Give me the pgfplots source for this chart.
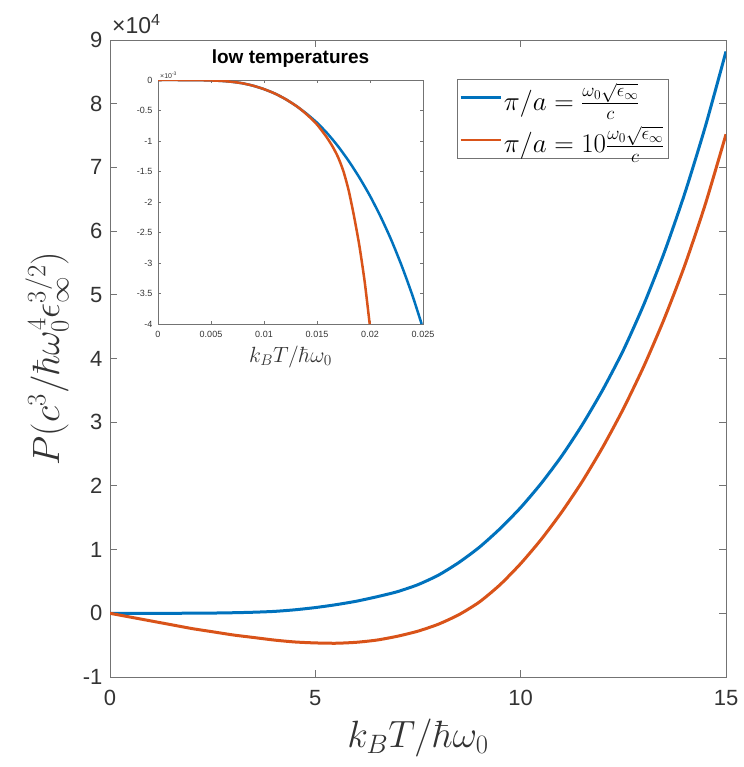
\RequirePackage{fix-cm}
\documentclass[border=0pt]{standalone}
\usepackage[no-math]{fontspec}
\setmainfont{Liberation Sans}
\usepackage{pgfplots}
\pgfplotsset{compat=1.18}
\definecolor{mblue}{rgb}{0,0.447,0.741}
\definecolor{morange}{rgb}{0.85,0.325,0.098}
\definecolor{axgray}{rgb}{0.45,0.45,0.45}
\definecolor{tickgray}{rgb}{0.2,0.2,0.2}

\begin{document}
\begin{tikzpicture}
\path (0pt,0pt) rectangle (743pt,-767pt);
% main plot, P in units of 1e4
\begin{axis}[
  at={(110pt,-677pt)}, anchor=south west,
  width=616pt, height=637pt, scale only axis,
  xmin=0, xmax=15, ymin=-1, ymax=9,
  xtick={0,5,10,15}, ytick={-1,0,...,9},
  scaled ticks=false,
  axis line style={axgray, line width=0.9pt},
  tick style={axgray, line width=0.9pt},
  major tick length=7pt,
  tick align=inside,
  /pgf/number format/assume math mode=true,
  ticklabel style={font=\fontsize{22}{26}\selectfont, text=tickgray},
  xticklabel style={yshift=-10pt},
  yticklabel style={xshift=-4pt},
  xlabel={$k_BT/\hbar\omega_0$},
  ylabel={$P(c^3/\hbar\omega_0^4\epsilon_\infty^{3/2})$},
  every axis x label/.style={at={(axis description cs:0.5,0)}, anchor=center, yshift=-61pt,
    font=\fontsize{38}{44}\selectfont, text=tickgray},
  every axis y label/.style={at={(axis description cs:0,0.5)}, rotate=90, anchor=center, yshift=63pt,
    font=\fontsize{38}{44}\selectfont, text=tickgray},
  legend style={at={(0.5633,0.9388)}, anchor=north west, draw=axgray, line width=0.8pt,
    font=\fontsize{27}{32}\selectfont, inner sep=2pt, row sep=10pt,
    cells={anchor=west}},
  legend image code/.code={\draw[#1, line width=2.4pt] (0pt,0pt) -- (40pt,0pt);},
]
\addplot[mblue, line width=3pt, smooth, tension=0.4] coordinates {
  (0,0)(0.5,0)(1,0)(1.5,0.0005)(2,0.0015)(2.5,0.004)(3,0.009)(3.5,0.017)
  (4,0.03)(4.5,0.055)(5,0.09)(5.5,0.135)(6,0.19)(6.5,0.26)(7,0.34)(7.5,0.45)
  (8,0.60)(8.5,0.80)(9,1.04)(9.5,1.33)(10,1.66)(10.5,2.04)(11,2.47)
  (11.5,2.96)(12,3.51)(12.5,4.13)(13,4.85)(13.5,5.67)(14,6.60)(14.5,7.65)(15,8.82)
};
\addplot[morange, line width=3pt, smooth, tension=0.4] coordinates {
  (0,0)(0.5,-0.06)(1,-0.12)(1.5,-0.18)(2,-0.24)(2.5,-0.29)(3,-0.34)(3.5,-0.38)
  (4,-0.42)(4.5,-0.45)(5,-0.465)(5.5,-0.47)(6,-0.455)(6.5,-0.42)(7,-0.36)
  (7.5,-0.28)(8,-0.17)(8.5,-0.02)(9,0.18)(9.5,0.45)(10,0.78)(10.5,1.16)
  (11,1.59)(11.5,2.07)(12,2.61)(12.5,3.21)(13,3.88)(13.5,4.63)(14,5.47)
  (14.5,6.43)(15,7.52)
};
\legend{$\pi/a=\frac{\omega_0\sqrt{\epsilon_\infty}}{c}$,
        $\pi/a=10\frac{\omega_0\sqrt{\epsilon_\infty}}{c}$}
\end{axis}
\node[anchor=base west, inner sep=0pt, font=\fontsize{23}{26}\selectfont, text=tickgray]
  at (112pt,-34pt) {×10\textsuperscript{4}};

% inset, P in units of 1e-3
\begin{axis}[
  at={(158pt,-324pt)}, anchor=south west,
  width=265pt, height=244pt, scale only axis,
  axis background/.style={fill=white},
  xmin=0, xmax=0.025, ymin=-4, ymax=0,
  xtick={0,0.005,0.01,0.015,0.02,0.025},
  xticklabels={0,0.005,0.01,0.015,0.02,0.025},
  ytick={-4,-3.5,-3,-2.5,-2,-1.5,-1,-0.5,0},
  yticklabels={-4,-3.5,-3,-2.5,-2,-1.5,-1,-0.5,0},
  scaled ticks=false,
  axis line style={axgray, line width=0.6pt},
  tick style={axgray, line width=0.6pt},
  major tick length=3pt,
  tick align=inside,
  ticklabel style={font=\fontsize{9}{11}\selectfont, text=tickgray},
  xticklabel style={yshift=-4pt},
  yticklabel style={xshift=-2pt},
  xlabel={$k_BT/\hbar\omega_0$},
  every axis x label/.style={at={(axis description cs:0.5,0)}, anchor=center, yshift=-33pt,
    font=\fontsize{22}{26}\selectfont, text=tickgray},
  title={\bfseries low temperatures},
  title style={font=\fontsize{19}{22}\selectfont, at={(axis description cs:0.5,1)}, anchor=center, yshift=15pt},
]
\addplot[mblue, line width=2.5pt, smooth, tension=0.4] coordinates {
  (0,0)(0.002,0)(0.004,-0.003)(0.005,-0.007)(0.006,-0.015)(0.007,-0.03)
  (0.008,-0.055)(0.009,-0.095)(0.010,-0.15)(0.011,-0.22)(0.012,-0.31)
  (0.013,-0.42)(0.0135,-0.485)(0.014,-0.55)(0.015,-0.70)(0.016,-0.88)(0.017,-1.09)
  (0.018,-1.33)(0.019,-1.60)(0.020,-1.90)(0.021,-2.24)(0.022,-2.62)
  (0.023,-3.05)(0.024,-3.53)(0.02487,-4.0)
};
\addplot[morange, line width=2.5pt, smooth, tension=0.4] coordinates {
  (0,0)(0.002,0)(0.004,-0.003)(0.005,-0.007)(0.006,-0.015)(0.007,-0.03)
  (0.008,-0.055)(0.009,-0.095)(0.010,-0.15)(0.011,-0.22)(0.012,-0.31)
  (0.013,-0.42)(0.0135,-0.485)(0.014,-0.56)(0.0145,-0.64)(0.015,-0.73)
  (0.0155,-0.84)(0.016,-0.96)(0.0165,-1.10)(0.017,-1.27)(0.0175,-1.50)
  (0.018,-1.82)(0.0185,-2.24)(0.019,-2.72)(0.0195,-3.31)(0.01997,-4.0)
};
\end{axis}
\node[anchor=south west, inner sep=0pt, font=\fontsize{7}{8}\selectfont, text=tickgray]
  at (160pt,-79pt) {×10\textsuperscript{-3}};
\end{tikzpicture}
\end{document}
